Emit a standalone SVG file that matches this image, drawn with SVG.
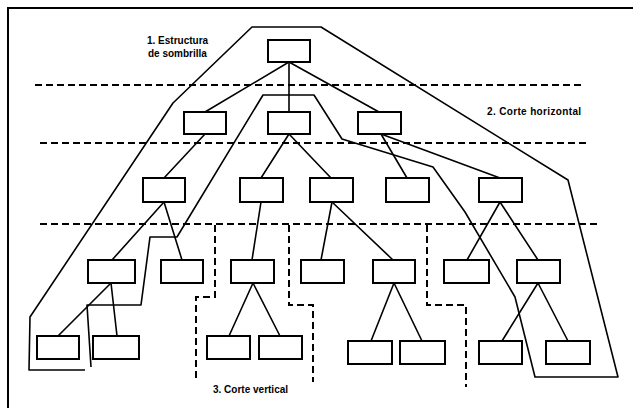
<svg xmlns="http://www.w3.org/2000/svg" width="633" height="408" viewBox="0 0 633 408">
  <style>
    .box { fill: #fff; stroke: #000; stroke-width: 2; }
    .edge { fill: none; stroke: #000; stroke-width: 1.6; stroke-linecap: round; }
    .cut { fill: none; stroke: #000; stroke-width: 2; stroke-dasharray: 7 4; }
    .outline { fill: none; stroke: #000; stroke-width: 1.6; stroke-linejoin: round; }
    .label { font-family: "Liberation Sans", Arial, sans-serif; font-weight: bold; font-size: 10px; fill: #000; }
  </style>
  <rect width="633" height="408" fill="#fff"/>

  <!-- frame -->
  <path d="M8,408 V8 H633" fill="none" stroke="#000" stroke-width="2"/>

  <!-- horizontal cut levels -->
  <g id="horizontal-cuts">
    <line class="cut" x1="35" y1="85" x2="583" y2="85"/>
    <line class="cut" x1="40" y1="143" x2="586" y2="143"/>
    <line class="cut" x1="40" y1="224" x2="598" y2="224"/>
  </g>

  <!-- vertical cuts -->
  <g id="vertical-cuts">
    <polyline class="cut" points="215,225 215,297 196,297 196,382"/>
    <polyline class="cut" points="289,225 289,305 313,305 313,382"/>
    <polyline class="cut" points="427,225 427,305 466,305 466,387"/>
  </g>

  <!-- umbrella outline -->
  <polyline id="umbrella" class="outline" points="91,367 87,305 141,305 150,237 177,237 263,95 314,95 342,139 433,167 465,212 515,297 535,377 618,377 568,180 321,27 252,27 173,103 30,317 29,370 85,370"/>

  <!-- tree connectors -->
  <g id="connectors">
    <line class="edge" x1="289" y1="62" x2="205" y2="112"/>
    <line class="edge" x1="289" y1="62" x2="289" y2="112"/>
    <line class="edge" x1="289" y1="62" x2="379" y2="112"/>
    <line class="edge" x1="205" y1="134" x2="164" y2="178"/>
    <line class="edge" x1="289" y1="134" x2="261" y2="178"/>
    <line class="edge" x1="289" y1="134" x2="331" y2="178"/>
    <line class="edge" x1="381" y1="134" x2="407" y2="178"/>
    <line class="edge" x1="381" y1="134" x2="500" y2="178"/>
    <line class="edge" x1="164" y1="202" x2="112" y2="260"/>
    <line class="edge" x1="164" y1="202" x2="182" y2="260"/>
    <line class="edge" x1="261" y1="202" x2="252" y2="260"/>
    <line class="edge" x1="332" y1="202" x2="321" y2="260"/>
    <line class="edge" x1="332" y1="202" x2="393" y2="260"/>
    <line class="edge" x1="500" y1="202" x2="467" y2="260"/>
    <line class="edge" x1="500" y1="202" x2="538" y2="260"/>
    <line class="edge" x1="111" y1="283" x2="58" y2="336"/>
    <line class="edge" x1="111" y1="283" x2="117" y2="336"/>
    <line class="edge" x1="253" y1="283" x2="229" y2="336"/>
    <line class="edge" x1="253" y1="283" x2="280" y2="336"/>
    <line class="edge" x1="394" y1="283" x2="371" y2="341"/>
    <line class="edge" x1="394" y1="283" x2="422" y2="341"/>
    <line class="edge" x1="538" y1="283" x2="502" y2="341"/>
    <line class="edge" x1="538" y1="283" x2="568" y2="341"/>
  </g>

  <!-- nodes -->
  <g id="root"><rect class="box" x="268" y="40" width="42" height="22"/></g>

  <g id="l2-a"><rect class="box" x="184" y="112" width="42" height="22"/></g>
  <g id="l2-b"><rect class="box" x="268" y="112" width="42" height="22"/></g>
  <g id="l2-c"><rect class="box" x="358" y="112" width="43" height="22"/></g>

  <g id="l3-a"><rect class="box" x="143" y="178" width="42" height="24"/></g>
  <g id="l3-b"><rect class="box" x="240" y="178" width="43" height="24"/></g>
  <g id="l3-c"><rect class="box" x="310" y="178" width="43" height="24"/></g>
  <g id="l3-d"><rect class="box" x="386" y="178" width="43" height="24"/></g>
  <g id="l3-e"><rect class="box" x="479" y="178" width="43" height="24"/></g>

  <g id="l4-a"><rect class="box" x="88" y="260" width="47" height="23"/></g>
  <g id="l4-b"><rect class="box" x="161" y="260" width="42" height="23"/></g>
  <g id="l4-c"><rect class="box" x="231" y="260" width="43" height="23"/></g>
  <g id="l4-d"><rect class="box" x="301" y="260" width="43" height="23"/></g>
  <g id="l4-e"><rect class="box" x="373" y="260" width="42" height="23"/></g>
  <g id="l4-f"><rect class="box" x="444" y="260" width="45" height="23"/></g>
  <g id="l4-g"><rect class="box" x="517" y="260" width="43" height="23"/></g>

  <g id="l5-a"><rect class="box" x="37" y="336" width="42" height="23"/></g>
  <g id="l5-b"><rect class="box" x="93" y="336" width="46" height="23"/></g>
  <g id="l5-c"><rect class="box" x="207" y="336" width="43" height="23"/></g>
  <g id="l5-d"><rect class="box" x="259" y="336" width="43" height="23"/></g>
  <g id="l5-e"><rect class="box" x="348" y="341" width="44" height="23"/></g>
  <g id="l5-f"><rect class="box" x="400" y="341" width="45" height="23"/></g>
  <g id="l5-g"><rect class="box" x="479" y="341" width="43" height="23"/></g>
  <g id="l5-h"><rect class="box" x="546" y="341" width="44" height="23"/></g>

  <!-- labels -->
  <g id="labels">
    <text class="label" x="147" y="44">1. Estructura</text>
    <text class="label" x="148" y="56.5">de sombrilla</text>
    <text class="label" x="487" y="115" letter-spacing="0.35">2. Corte horizontal</text>
    <text class="label" x="213" y="393">3. Corte vertical</text>
  </g>
</svg>
